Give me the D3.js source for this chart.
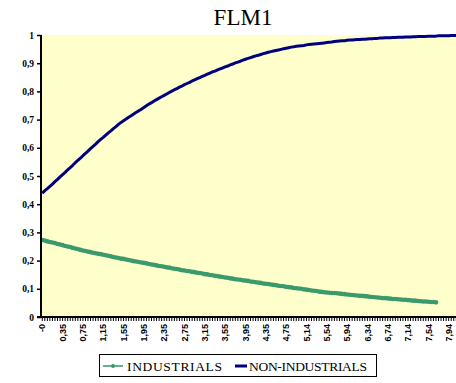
<!DOCTYPE html>
<html><head><meta charset="utf-8">
<script src="https://cdn.jsdelivr.net/npm/d3@7"></script>
</head>
<body style="margin:0;padding:0;background:#fff;">
<svg id="c" width="456" height="383" style="display:block;font-family:'Liberation Serif'"></svg>
<script>
const title = "FLM1";
const seriesNames = ["INDUSTRIALS", "NON-INDUSTRIALS"];
const tickLabels = ["-0","0,35","0,75","1,15","1,55","1,95","2,35","2,75","3,15","3,55","3,95","4,35","4,75","5,14","5,54","5,94","6,34","6,74","7,14","7,54","7,94"];
const labelEvery = 8;
const categoryCount = 168;
const yTicks = [0,0.1,0.2,0.3,0.4,0.5,0.6,0.7,0.8,0.9,1];
const yTickLabels = ["0","0,1","0,2","0,3","0,4","0,5","0,6","0,7","0,8","0,9","1"];

const industrials = [
.273,.271,.268,.266,.264,.262,.259,.257,.255,.252,.250,.248,.245,.243,.241,.238,
.236,.234,.232,.230,.228,.226,.224,.223,.221,.219,.217,.215,.213,.211,.209,.207,.206,.204,.202,.200,
.198,.197,.195,.193,.192,.190,.188,.186,.185,.183,.181,.180,.178,.176,.175,.173,.171,.170,.168,
.166,.165,.163,.162,.160,.159,.157,.156,.154,.152,.151,.149,.148,.146,.145,.143,.142,.140,.139,.137,
.136,.134,.133,.132,.130,.129,.128,.126,.125,.123,.122,.121,.119,.118,.117,.115,.114,.113,.111,.110,
.109,.107,.106,.105,.103,.102,.101,.100,.098,.097,.096,.094,.093,.092,.090,
.089,.088,.087,.086,.085,.085,.084,.083,.082,.081,.080,.079,.078,.077,.076,.075,.075,.074,.073,.072,.071,.070,.069,.068,
.067,.067,.066,.065,.064,.064,.063,.062,.061,.061,.060,.059,.058,.058,.057,.056,.055,.055,.054,.053,.053,.052];

const nonIndustrials = [
.439,.448,.455,.463,.471,.480,.488,.497,.505,.513,.522,.530,
.538,.547,.555,.563,.572,.580,.588,.597,.605,.613,.622,.630,
.637,.645,.653,.660,.668,.675,.683,.690,
.696,.702,.708,.714,.720,.726,.731,.737,.743,.749,.755,
.760,.766,.771,.776,.781,.786,.791,.796,.801,.806,.810,.815,.819,.824,.828,.832,.837,.841,.845,.849,
.853,.857,.861,.865,.869,.872,.876,.880,.883,.887,.890,.894,.897,.901,.904,.907,.911,.914,.917,.920,
.923,.926,.928,.931,.934,.936,.939,.941,.943,.945,.947,.949,.951,.953,.955,.957,.958,.960,.961,.962,
.963,.965,.966,.967,.968,.969,.970,.971,.972,.973,.974,.975,.977,.978,.979,
.980,.980,.981,.982,.982,.983,.984,.984,.985,.985,.986,.987,.987,.988,.988,.989,
.989,.990,.990,.990,.991,.991,.992,.992,.992,.993,.993,.993,.994,.994,.995,.995,
.995,.995,.996,.996,.996,.996,.997,.997,.997,.997,.997,.998,.998,.998,.998,.998,.998,.998];

const svg = d3.select("#c");
const L = 41, T = 35, B = 317, step = 2.54;
const cats = d3.range(categoryCount);
const x = d3.scaleBand().domain(cats).range([L, L + step * categoryCount]).paddingInner(0).paddingOuter(0);
const y = d3.scaleLinear().domain([0, 1]).range([B, T]);

function serif(sel, size, bold) {
  return sel.attr("font-family", "Liberation Serif").style("font-family", '"Liberation Serif"')
    .style("font-size", size + "px").style("font-weight", bold ? "bold" : "normal");
}

svg.append("rect").attr("x", L).attr("y", T).attr("width", x.range()[1] - L).attr("height", B - T).attr("fill", "#FFFFCC");

serif(svg.append("text").attr("x", 243).attr("y", 25).attr("text-anchor", "middle").attr("fill", "#000"), 23, false).text(title);

const cx = i => x(i) + x.bandwidth() / 2;

svg.append("path").datum(nonIndustrials)
  .attr("fill", "none").attr("stroke", "#000080").attr("stroke-width", 3).attr("stroke-linejoin", "round")
  .attr("d", d3.line().x((d, i) => cx(i)).y(d => y(d)));

svg.append("path").datum(industrials)
  .attr("fill", "none").attr("stroke", "#339966").attr("stroke-width", 1.5)
  .attr("d", d3.line().x((d, i) => cx(i)).y(d => y(d)));
svg.append("g").selectAll("circle").data(industrials).join("circle")
  .attr("cx", (d, i) => cx(i)).attr("cy", d => y(d)).attr("r", 2.3)
  .attr("fill", "#3a9a6c");

const yAxis = d3.axisLeft(y).tickValues(yTicks).tickSize(4).tickPadding(3)
  .tickFormat((d, i) => yTickLabels[i]);
const gy = svg.append("g").attr("transform", `translate(${L},0)`).call(yAxis);
gy.attr("font-family", "Liberation Serif");
gy.select(".domain").attr("stroke", "#000").attr("stroke-width", 2).attr("d", `M0,${T}V${B}`);
gy.selectAll(".tick line").attr("stroke", "#000").attr("stroke-width", 1.5);
serif(gy.selectAll(".tick text"), 9.5, true).attr("fill", "#000");

const xAxis = d3.axisBottom(x).tickValues(cats).tickSize(4).tickPadding(3)
  .tickFormat(i => (i % labelEvery === 0 && tickLabels[i / labelEvery] !== undefined) ? tickLabels[i / labelEvery] : "");
const gx = svg.append("g").attr("transform", `translate(0,${B})`).call(xAxis);
gx.attr("font-family", "Liberation Sans");
gx.select(".domain").attr("stroke", "#000").attr("stroke-width", 2).attr("d", `M${L-4},0H${x.range()[1]}`);
gx.selectAll(".tick line").attr("stroke", "#000").attr("stroke-width", 1);
gx.selectAll(".tick text").attr("font-family", "Liberation Sans").style("font-family", '"Liberation Sans"')
  .style("font-weight", "bold").style("font-size", "9px").attr("fill", "#000")
  .attr("transform", "rotate(-90)").attr("text-anchor", "end").attr("dy", "0.35em").attr("x", -7).attr("y", 0);

const lg = svg.append("g");
lg.append("rect").attr("x", 99.5).attr("y", 354.5).attr("width", 277).attr("height", 22)
  .attr("fill", "#fff").attr("stroke", "#000").attr("stroke-width", 1);
lg.append("line").attr("x1", 103).attr("x2", 123).attr("y1", 366).attr("y2", 366).attr("stroke", "#339966").attr("stroke-width", 1.5);
lg.append("circle").attr("cx", 113).attr("cy", 366).attr("r", 2).attr("fill", "#339966");
serif(lg.append("text").attr("x", 127).attr("y", 370.5).attr("fill", "#000"), 13.5, false)
  .attr("textLength", 95).attr("lengthAdjust", "spacing").text(seriesNames[0]);
serif(lg.append("text").attr("x", 249).attr("y", 370.5).attr("fill", "#000"), 13.5, false)
  .attr("textLength", 118).attr("lengthAdjust", "spacing").text(seriesNames[1]);
lg.append("line").attr("x1", 235).attr("x2", 247).attr("y1", 366).attr("y2", 366).attr("stroke", "#000080").attr("stroke-width", 3);
</script></body></html>
